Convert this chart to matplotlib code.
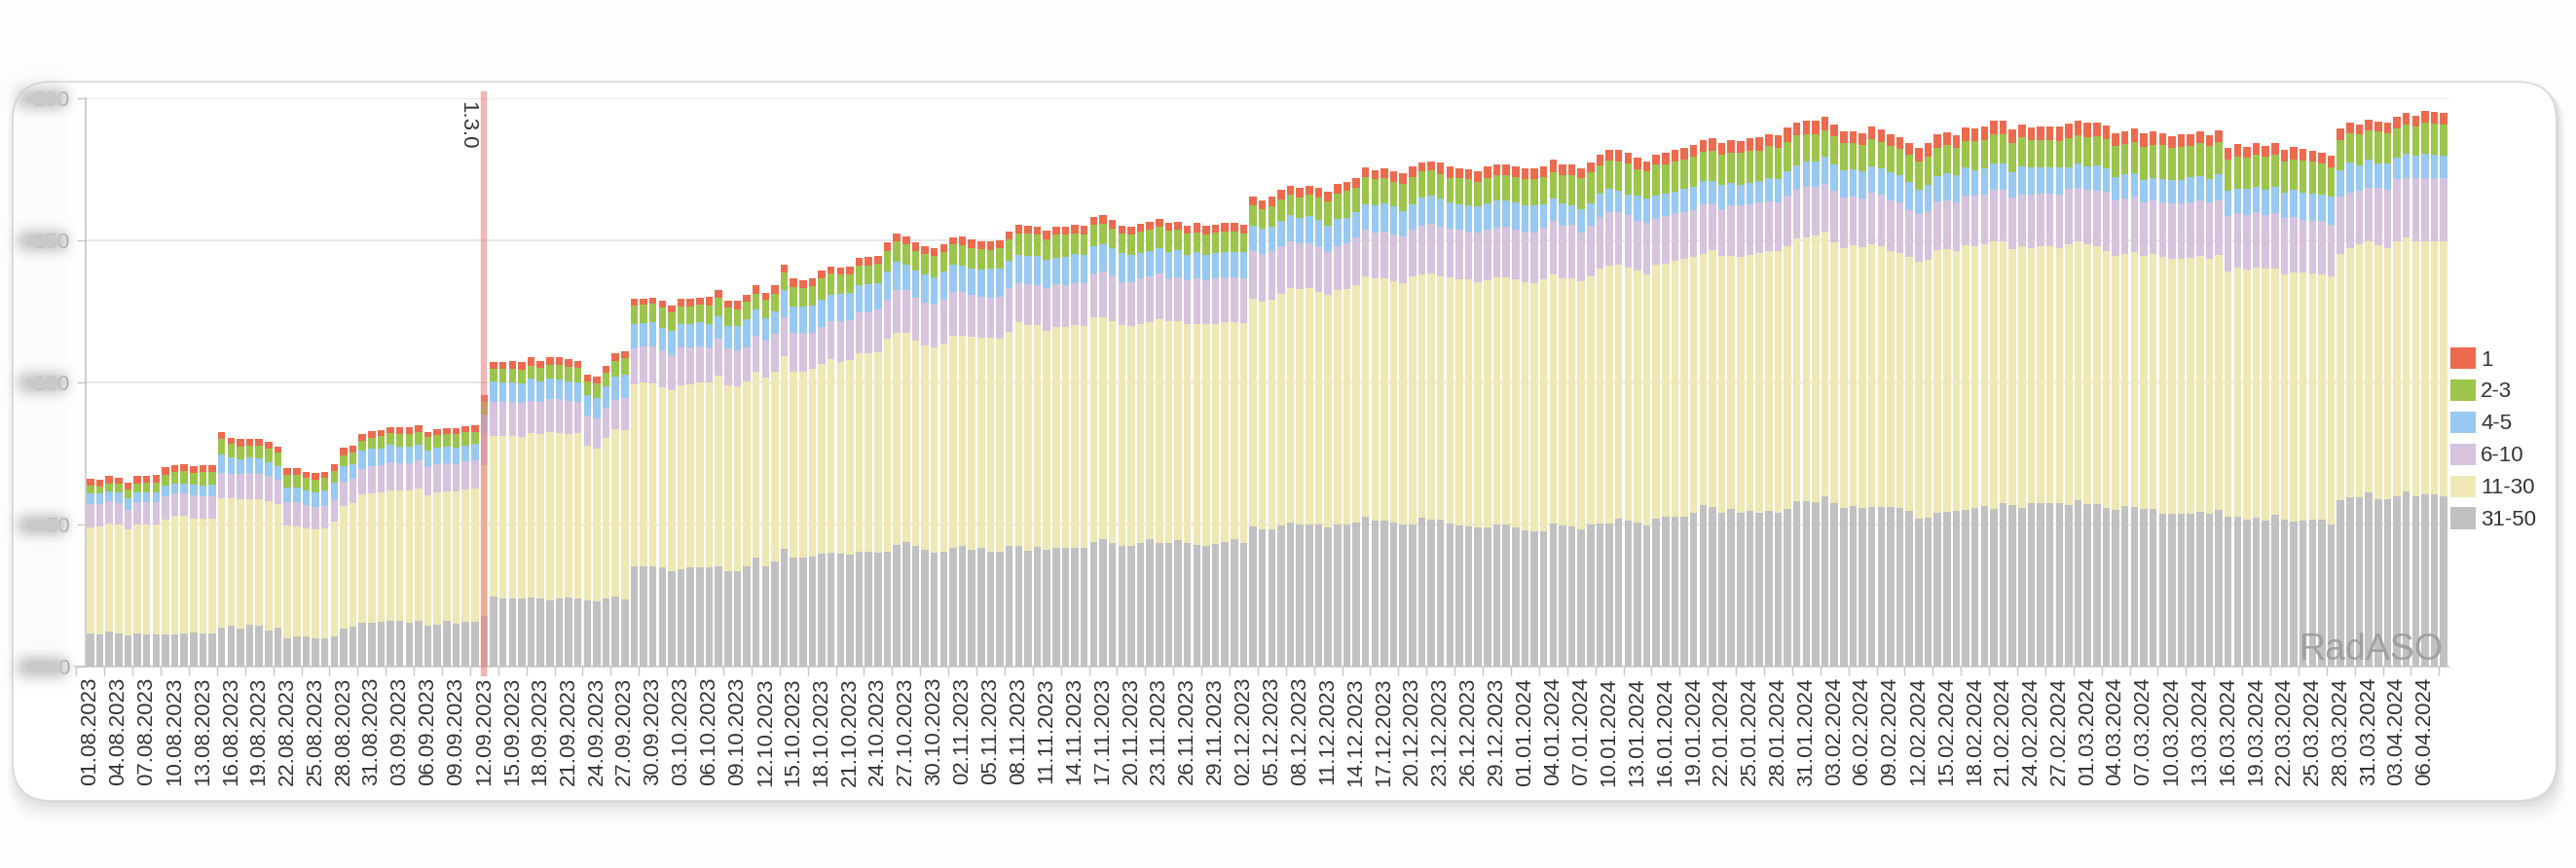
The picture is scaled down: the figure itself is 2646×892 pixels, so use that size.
import numpy as np
import pandas as pd
import matplotlib
matplotlib.use('Agg')
import matplotlib.pyplot as plt
from matplotlib.patches import FancyBboxPatch, Patch

plt.rcParams['font.family'] = ['Liberation Sans', 'DejaVu Sans']

# ---------------- data ----------------
start_date = '2023-08-01'
n_days = 252
dates = pd.date_range(start_date, periods=n_days, freq='D')
date_labels = [d.strftime('%d.%m.%Y') for d in dates]

series_names = ['1', '2-3', '4-5', '6-10', '11-30', '31-50']
series_colors = ['#ec6b4e', '#9cc54b', '#98c9f2', '#d7c3dd', '#efe8b4', '#c1c1c1']

pos_31_50 = [
    11.8, 11.4, 12.2, 11.8, 10.8, 11.6, 11.2, 11.2, 11.4, 11.4, 11.8, 12.0, 11.8, 11.8,
    13.7, 14.3, 13.4, 14.7, 14.3, 12.8, 13.7, 9.9, 10.5, 10.5, 9.9, 10.0, 10.5, 13.5,
    13.9, 15.4, 15.4, 15.6, 16.0, 16.0, 15.4, 16.0, 14.5, 14.8, 16.0, 15.2, 15.6, 15.6,
    17.9,
    24.8, 24.0, 24.0, 24.0, 24.3, 24.0, 23.4, 24.0, 24.2, 24.0, 23.2, 22.8, 24.0, 24.6, 23.8,
    35.4, 35.4, 35.2, 34.8, 33.7, 34.3, 34.8, 34.8, 34.8, 35.4, 33.5, 33.5, 35.4, 38.3, 35.4,
    37.1, 41.5, 38.5, 38.5, 38.8, 39.6, 40.0, 39.6, 39.4, 40.3, 40.3,
    40.0, 40.3, 42.8, 44.0, 42.5, 41.1, 40.0, 40.5, 41.9, 42.3, 41.1, 41.7, 40.3, 40.5,
    42.3, 42.5, 40.9, 42.0, 41.1, 41.7, 41.7, 41.9, 41.9, 44.0, 44.9, 43.4, 42.5, 42.3,
    43.6, 44.9, 43.6, 43.4, 44.5, 43.6, 42.8, 42.3, 43.1, 44.0, 44.8, 43.4, 49.4, 48.2,
    48.3, 49.5, 50.7, 50.1, 49.9, 49.9, 48.9, 50.1, 50.1, 50.7, 52.9, 51.3, 51.3, 50.7,
    50.1, 50.1, 52.3, 51.7, 51.6, 50.5, 49.5, 49.2, 48.9, 48.9, 50.1, 50.1, 48.9, 48.0,
    47.7, 47.7, 50.5, 49.5, 49.2, 48.3, 50.1, 50.5, 50.5, 51.9, 51.3, 50.7, 49.5, 51.9,
    52.6, 52.7, 52.6, 54.0, 56.8, 56.2, 54.2, 55.5, 54.0, 54.9, 54.2, 54.9, 54.2, 55.5,
    58.3, 58.3, 57.8, 60.0, 57.4, 55.9, 56.4, 55.8, 56.2, 56.2, 56.2, 55.8, 54.9, 52.0,
    52.3, 54.2, 54.5, 54.9, 55.1, 55.9, 56.4, 55.5, 57.7, 57.0, 55.8, 57.7, 57.7, 57.7,
    57.5, 56.9, 58.5, 57.3, 57.3, 55.9, 55.3, 56.6, 56.2, 55.6, 55.6, 53.6, 53.6, 53.6,
    53.6, 54.3, 53.6, 55.3, 52.7, 52.6, 51.7, 52.3, 51.3, 53.4, 51.7, 51.1, 51.3, 51.7,
    51.7, 50.0, 58.6, 59.5, 59.5, 61.4, 58.8, 58.8, 59.8, 61.8, 59.8, 60.5, 60.5, 59.9,
]
pos_11_30 = [
    37.3, 37.9, 38.0, 38.1, 37.5, 38.3, 38.8, 38.8, 40.3, 41.7, 41.3, 40.2, 40.4, 40.2,
    45.7, 45.1, 45.5, 44.3, 44.5, 45.5, 43.6, 39.7, 38.8, 38.3, 38.3, 38.8, 40.5, 43.1,
    43.5, 45.3, 45.7, 45.7, 45.9, 45.9, 46.6, 46.8, 45.7, 46.5, 45.7, 46.5, 46.8, 47.2,
    52.9,
    56.3, 57.3, 57.1, 56.8, 57.9, 57.7, 59.0, 58.2, 57.8, 58.2, 54.7, 54.0, 56.5, 58.8, 59.3,
    64.0, 64.5, 64.5, 63.4, 63.4, 64.8, 64.5, 65.1, 65.1, 67.0, 65.6, 65.1, 65.1, 65.3, 66.2,
    66.8, 67.6, 65.4, 65.4, 65.9, 66.9, 68.2, 67.7, 68.5, 69.9, 70.1,
    70.5, 75.0, 74.8, 73.3, 72.3, 71.9, 72.3, 73.3, 74.6, 74.2, 75.0, 74.2, 75.4, 75.0,
    75.6, 78.6, 79.4, 78.1, 76.9, 77.7, 77.9, 78.2, 78.0, 78.8, 78.1, 78.2, 77.8, 77.7,
    76.9, 76.2, 78.6, 78.2, 77.1, 76.9, 77.9, 78.2, 77.4, 77.1, 76.6, 77.4, 80.2, 80.3,
    80.7, 81.6, 82.5, 82.7, 83.3, 82.1, 81.9, 82.5, 82.7, 83.7, 84.6, 85.2, 85.5, 84.9,
    84.9, 87.1, 85.8, 86.8, 85.9, 86.4, 86.8, 87.0, 86.4, 87.1, 86.8, 86.8, 87.4, 87.3,
    87.4, 88.6, 87.6, 87.0, 87.6, 87.4, 87.4, 89.5, 90.7, 89.5, 89.2, 88.6, 88.6, 89.5,
    89.2, 90.0, 90.8, 90.3, 88.5, 90.4, 90.4, 89.1, 90.3, 90.0, 91.3, 91.3, 91.9, 92.6,
    92.3, 92.7, 93.8, 93.2, 91.9, 91.3, 92.0, 91.7, 92.3, 91.9, 90.0, 89.7, 89.4, 90.6,
    91.0, 92.3, 92.3, 91.3, 93.3, 91.9, 92.3, 94.2, 92.0, 89.9, 92.0, 89.7, 90.1, 90.4,
    89.9, 91.6, 91.3, 91.4, 90.5, 90.4, 89.2, 88.6, 89.6, 89.0, 89.6, 90.5, 89.9, 89.9,
    90.3, 90.3, 90.0, 89.5, 86.4, 87.7, 88.1, 88.1, 88.7, 86.6, 86.4, 87.7, 87.4, 86.8,
    86.4, 87.4, 86.6, 87.9, 89.0, 88.1, 89.6, 88.3, 89.8, 89.2, 90.0, 89.2, 89.2, 89.6,
]
pos_6_10 = [
    8.0, 7.8, 8.0, 7.8, 6.9, 8.0, 7.9, 7.9, 8.2, 8.0, 8.0, 8.0, 7.8, 8.0,
    8.8, 8.3, 8.9, 9.1, 9.1, 8.8, 8.3, 8.2, 8.6, 8.0, 7.8, 7.7, 8.0, 8.6,
    8.8, 8.9, 9.4, 9.7, 10.0, 9.7, 9.6, 9.7, 10.0, 10.0, 9.9, 9.7, 9.7, 9.7,
    11.4,
    12.0, 11.8, 12.0, 12.1, 11.4, 11.4, 11.8, 12.0, 11.6, 10.8, 10.4, 10.5, 10.5, 10.6, 11.4,
    12.6, 12.8, 13.0, 13.1, 12.6, 13.2, 12.9, 12.8, 12.6, 12.9, 12.9, 12.8, 12.0, 12.9, 13.1,
    13.1, 13.7, 13.4, 13.4, 12.9, 13.0, 13.5, 14.3, 13.9, 14.3, 14.4,
    15.2, 13.7, 14.8, 15.2, 15.1, 15.2, 15.1, 15.2, 15.4, 15.4, 14.8, 14.3, 14.2, 14.6,
    15.2, 13.7, 14.2, 14.0, 15.1, 15.1, 14.8, 15.0, 15.2, 15.4, 16.0, 16.0, 15.1, 15.4,
    16.2, 16.3, 16.0, 15.1, 15.4, 15.4, 15.8, 15.4, 16.0, 16.0, 15.6, 15.9, 16.6, 16.6,
    17.4, 16.7, 16.5, 16.3, 15.9, 15.9, 15.0, 15.3, 16.3, 16.7, 16.3, 16.3, 16.3, 16.5,
    16.5, 16.7, 17.1, 17.4, 17.4, 17.1, 17.4, 16.9, 17.5, 17.6, 17.7, 18.0, 17.4, 17.8,
    17.7, 18.1, 18.7, 18.7, 18.7, 17.1, 17.7, 18.1, 18.6, 18.7, 18.3, 17.7, 18.0, 16.3,
    16.9, 16.9, 16.7, 16.4, 17.3, 16.0, 16.4, 17.7, 17.9, 17.7, 17.7, 17.4, 17.1, 17.7,
    17.1, 17.9, 17.1, 16.8, 18.3, 17.9, 16.9, 17.1, 18.2, 17.9, 17.9, 17.7, 16.4, 16.7,
    16.9, 17.3, 17.3, 17.1, 17.3, 17.9, 17.4, 18.2, 18.2, 18.2, 18.3, 18.7, 18.6, 18.3,
    18.8, 19.5, 18.8, 19.0, 19.5, 20.7, 19.7, 19.5, 19.5, 18.8, 18.8, 19.2, 19.5, 19.5,
    19.5, 19.5, 19.7, 19.2, 19.5, 19.2, 19.1, 19.7, 18.8, 19.5, 19.7, 19.5, 18.6, 18.4,
    18.8, 18.2, 20.1, 19.5, 18.8, 19.1, 20.1, 20.8, 22.0, 21.0, 22.1, 22.1, 22.3, 22.3,
]
pos_4_5 = [
    3.7, 3.7, 3.4, 3.7, 4.0, 3.4, 3.4, 3.4, 3.8, 3.4, 3.4, 3.8, 3.8, 4.0,
    6.4, 5.9, 5.1, 5.5, 5.5, 4.9, 4.8, 5.3, 5.1, 5.3, 5.4, 5.5, 5.8, 5.4,
    5.1, 6.3, 6.1, 5.8, 6.1, 5.7, 5.7, 5.5, 5.7, 5.9, 5.7, 5.7, 5.5, 5.9,
    6.5,
    7.1, 6.9, 6.9, 6.9, 7.7, 7.4, 7.1, 6.9, 6.9, 6.9, 7.1, 7.1, 7.8, 8.2, 8.3,
    8.6, 8.3, 8.6, 8.0, 8.6, 8.2, 8.5, 8.7, 8.2, 8.0, 8.0, 8.6, 9.7, 9.1, 8.0,
    8.0, 9.7, 9.5, 9.5, 9.5, 9.5, 9.1, 9.4, 9.8, 9.7, 9.9,
    9.1, 9.9, 9.9, 9.1, 9.5, 9.9, 9.7, 9.9, 9.4, 9.1, 9.3, 9.5, 10.0, 9.9,
    9.7, 9.9, 10.0, 10.3, 10.0, 9.5, 9.8, 10.2, 9.9, 9.9, 9.5, 9.7, 10.0, 9.4,
    8.9, 8.8, 9.1, 9.3, 9.5, 9.1, 9.4, 8.8, 9.1, 8.8, 8.8, 9.1, 8.9, 9.1,
    8.3, 8.9, 9.2, 8.9, 9.4, 9.2, 9.2, 9.8, 8.9, 8.9, 8.8, 9.4, 9.8, 9.8,
    8.9, 8.9, 9.8, 9.8, 9.8, 9.5, 8.9, 9.4, 9.2, 9.3, 9.5, 9.3, 9.5, 9.4,
    9.4, 8.2, 7.8, 7.7, 7.0, 8.2, 7.7, 8.2, 8.3, 7.3, 7.3, 8.6, 8.6, 8.2,
    7.9, 7.4, 7.9, 8.3, 8.3, 8.3, 8.6, 7.9, 7.4, 7.7, 7.7, 8.2, 8.3, 8.6,
    8.7, 8.7, 9.0, 9.5, 9.2, 9.6, 9.6, 9.6, 9.4, 9.4, 10.0, 9.9, 9.9, 8.6,
    9.4, 8.7, 9.4, 9.6, 9.9, 9.0, 9.2, 9.0, 9.0, 9.0, 9.9, 9.5, 9.2, 9.2,
    9.5, 7.8, 8.4, 8.4, 9.1, 8.2, 8.2, 8.7, 8.4, 7.8, 7.8, 8.2, 8.2, 8.2,
    8.7, 8.4, 8.4, 9.4, 8.7, 8.7, 9.1, 8.8, 9.1, 9.5, 9.1, 9.5, 9.4, 9.5,
    9.1, 9.7, 9.4, 10.4, 9.1, 9.7, 8.7, 9.1, 7.5, 8.6, 7.8, 8.8, 8.2, 8.1,
]
pos_2_3 = [
    3.0, 2.6, 2.9, 3.0, 3.1, 3.2, 3.4, 3.4, 3.7, 4.0, 4.3, 4.2, 4.6, 4.6,
    5.4, 4.8, 4.6, 4.3, 4.2, 4.6, 4.8, 4.5, 4.6, 4.5, 4.3, 4.5, 4.0, 3.8,
    4.0, 3.7, 4.0, 4.2, 4.2, 4.6, 4.7, 4.6, 4.9, 4.3, 4.6, 4.6, 4.8, 4.3,
    4.3,
    4.6, 4.8, 4.8, 4.8, 4.6, 4.6, 4.9, 5.1, 5.1, 5.1, 5.1, 5.1, 4.6, 5.5, 5.7,
    6.3, 6.3, 6.3, 7.1, 6.3, 6.3, 6.1, 5.9, 6.4, 6.5, 6.3, 5.7, 6.1, 5.7, 6.3,
    6.3, 6.3, 6.9, 6.5, 6.9, 7.7, 7.4, 6.9, 6.5, 6.9, 6.5,
    6.9, 7.2, 7.2, 7.2, 6.9, 7.2, 7.4, 7.1, 7.2, 7.4, 7.1, 7.1, 6.6, 7.2,
    7.4, 7.8, 7.8, 7.7, 7.4, 8.0, 7.7, 7.2, 7.2, 7.5, 7.4, 6.9, 6.9, 7.2,
    7.4, 7.4, 7.4, 7.4, 7.1, 7.4, 6.9, 7.4, 7.1, 7.2, 7.2, 6.6, 7.1, 6.9,
    7.3, 7.6, 7.1, 7.0, 7.5, 7.9, 8.8, 8.8, 9.4, 8.6, 9.8, 9.3, 9.0, 8.8,
    9.4, 9.4, 9.2, 8.8, 8.7, 8.4, 9.2, 9.2, 8.6, 9.0, 8.8, 8.8, 9.2, 9.2,
    9.3, 9.8, 9.5, 10.0, 10.4, 10.8, 11.2, 10.1, 10.0, 10.4, 11.0, 9.5, 9.5, 10.8,
    10.0, 10.9, 10.4, 10.3, 10.3, 10.6, 10.6, 10.5, 11.2, 11.3, 10.6, 11.3, 10.9, 10.3,
    10.5, 9.9, 9.6, 9.1, 9.7, 9.6, 9.4, 9.2, 9.4, 9.2, 9.2, 9.0, 9.7, 10.0,
    9.9, 10.1, 9.9, 9.6, 9.4, 10.3, 10.0, 10.3, 10.6, 10.3, 10.3, 9.7, 9.7, 9.7,
    9.1, 10.1, 10.1, 10.3, 10.1, 10.4, 10.8, 10.4, 10.8, 11.7, 11.7, 12.0, 11.3, 11.7,
    11.2, 11.7, 11.4, 11.2, 11.0, 11.4, 11.0, 11.3, 11.4, 11.3, 10.8, 10.7, 11.4, 11.3,
    11.0, 10.4, 10.5, 10.5, 10.8, 10.4, 11.0, 10.8, 10.4, 10.0, 10.4, 10.7, 11.0, 11.0,
]
pos_1 = [
    2.2, 2.3, 2.5, 2.2, 2.5, 2.5, 2.4, 2.6, 2.9, 2.4, 2.5, 2.3, 2.5, 2.3,
    2.5, 2.1, 2.5, 2.3, 2.6, 2.5, 2.2, 2.4, 2.1, 1.9, 2.3, 2.1, 2.3, 2.6,
    2.3, 2.4, 2.3, 2.3, 2.1, 2.3, 2.2, 2.2, 1.9, 2.1, 2.1, 2.1, 2.1, 2.1,
    2.5,
    2.3, 2.3, 2.6, 2.5, 3.0, 2.6, 2.6, 2.6, 2.6, 2.6, 2.3, 2.4, 2.5, 2.5, 2.3,
    2.6, 2.3, 2.3, 2.3, 2.6, 2.6, 2.6, 2.6, 2.9, 2.6, 2.6, 2.9, 2.5, 2.9, 2.5,
    2.9, 2.6, 2.9, 2.6, 2.5, 2.6, 2.6, 2.6, 2.6, 2.9, 3.0,
    2.9, 3.1, 2.9, 2.7, 2.9, 2.7, 2.9, 2.7, 2.6, 2.9, 2.9, 2.9, 3.1, 2.9,
    2.9, 2.9, 2.9, 2.6, 2.9, 2.9, 2.9, 2.9, 2.9, 2.7, 3.1, 2.9, 2.9, 2.9,
    2.9, 2.9, 2.9, 2.9, 2.9, 2.9, 3.2, 2.9, 2.9, 3.1, 3.2, 3.2, 3.1, 3.1,
    3.3, 3.4, 3.3, 3.5, 3.3, 3.4, 3.4, 3.2, 3.3, 3.3, 3.3, 3.1, 3.4, 3.7,
    3.7, 3.7, 3.3, 3.4, 3.9, 4.0, 3.7, 3.4, 3.7, 4.0, 3.7, 3.7, 3.7, 3.7,
    3.7, 3.7, 4.3, 3.9, 3.9, 3.7, 3.4, 3.7, 3.7, 3.9, 3.7, 3.9, 3.7, 3.4,
    4.2, 3.8, 4.1, 4.1, 4.2, 4.4, 4.1, 4.6, 4.2, 4.4, 4.7, 4.2, 4.5, 5.1,
    4.7, 4.7, 4.7, 5.0, 4.4, 4.2, 4.2, 4.2, 4.7, 4.6, 4.2, 4.2, 4.1, 4.5,
    4.6, 4.6, 4.5, 4.5, 4.7, 4.5, 4.7, 4.9, 4.7, 4.5, 4.5, 4.5, 4.7, 4.7,
    5.2, 5.2, 5.1, 4.9, 4.8, 4.9, 4.4, 4.5, 4.8, 4.8, 4.8, 4.2, 4.3, 4.3,
    4.2, 4.2, 3.9, 4.2, 4.3, 4.2, 3.9, 3.9, 3.9, 3.9, 4.2, 4.3, 4.2, 3.9,
    3.9, 4.2, 4.2, 3.8, 3.5, 3.6, 3.6, 3.5, 3.9, 4.2, 3.9, 4.2, 3.9, 4.0,
]

release_date = '12.09.2023'
release_label = '1.3.0'
y_ticks = [0, 50, 100, 150, 200]
watermark = 'RadASO'

series_values = [pos_1, pos_2_3, pos_4_5, pos_6_10, pos_11_30, pos_31_50]
for s in series_values:
    assert len(s) == n_days, len(s)

# ---------------- figure ----------------
W, H = 2646, 892
fig = plt.figure(figsize=(W / 100, H / 100), dpi=100)
fig.patch.set_facecolor('#fdfdfd')

# background card with shadow
ax_bg = fig.add_axes([0, 0, 1, 1], zorder=0)
ax_bg.set_xlim(0, W)
ax_bg.set_ylim(H, 0)
ax_bg.axis('off')
card_x0, card_y0, card_w, card_h = 13, 84, 2613, 739
for k, a in enumerate([0.035, 0.03, 0.025, 0.02, 0.015, 0.01]):
    off = 2 + k * 2.5
    ax_bg.add_patch(FancyBboxPatch((card_x0 + 2, card_y0 + off), card_w, card_h,
                                   boxstyle=f"round,pad={k*1.5},rounding_size=40",
                                   fc='black', ec='none', alpha=a))
ax_bg.add_patch(FancyBboxPatch((card_x0, card_y0), card_w, card_h,
                               boxstyle="round,pad=0,rounding_size=40",
                               fc='white', ec='#d9d9d9', lw=1.2))

# main axes
ax_l, ax_r, ax_t, ax_b = 77, 2515, 101, 685
ax = fig.add_axes([ax_l / W, 1 - ax_b / H, (ax_r - ax_l) / W, (ax_b - ax_t) / H], zorder=2)
ax.patch.set_alpha(0)
x = np.arange(n_days)
ax.set_xlim(-1.65, n_days - 0.5)
ax.set_ylim(0, 200)

# gridlines
ax.hlines(y_ticks[1:], -0.55, n_days - 0.5, color='#e4e4e4', lw=1.2, zorder=0)

# stacked bars, bottom to top
bottom = np.zeros(n_days)
for name, vals, col in reversed(list(zip(series_names, series_values, series_colors))):
    v = np.array(vals)
    ax.bar(x, v, bottom=bottom, width=0.78, color=col, linewidth=0, zorder=2)
    bottom += v

# release marker
rel_idx = date_labels.index(release_date)
ax.axvline(rel_idx, ymin=-0.012, ymax=1.006, color='#ee7878', alpha=0.55, lw=4.6,
           clip_on=False, zorder=3)
ax.text(rel_idx - 1.85, 199, release_label, rotation=-90, ha='center', va='top',
        fontsize=16, color='#333333', zorder=4)

# spines
for s in ['top', 'right']:
    ax.spines[s].set_visible(False)
ax.spines['left'].set_position(('data', -0.55))
ax.spines['left'].set_color('#c6c6c6')
ax.spines['bottom'].set_color('#c6c6c6')
ax.spines['left'].set_linewidth(1.2)
ax.spines['bottom'].set_linewidth(1.2)

# x ticks
ax.set_xticks(x[::3])
ax.set_xticklabels(date_labels[::3], rotation=90, fontsize=16, color='#333333')
ax.tick_params(axis='x', which='major', length=0, pad=8)
ax.set_xticks(np.arange(-1.5, n_days, 3), minor=True)
ax.tick_params(axis='x', which='minor', length=6.5, width=1, color='#c6c6c6')

# y ticks
ax.set_yticks(y_ticks)
ax.set_yticklabels([str(v) for v in y_ticks], fontsize=16, color='#9a9a9a')
ax.tick_params(axis='y', length=6.5, width=1, color='#c6c6c6', pad=5)

# legend
handles = [Patch(facecolor=c, edgecolor='none') for c in series_colors]
leg = fig.legend(handles, series_names, loc='upper left',
                 bbox_to_anchor=(2517 / W, 1 - 357 / H), frameon=False, fontsize=16,
                 handlelength=1.15, handleheight=1.15, handletextpad=0.25,
                 labelspacing=0.42, borderpad=0, borderaxespad=0)
for t in leg.get_texts():
    t.set_color('#333333')

# watermark
fig.text(2510 / W, 1 - 678 / H, watermark, ha='right', va='baseline', fontsize=27,
         color='#9c9c9c', alpha=0.9, zorder=6)

# blurred y labels (obscured in the reference)
fig.canvas.draw()
ax_fg = fig.add_axes([0, 0, 1, 1], zorder=5)
ax_fg.patch.set_alpha(0)
ax_fg.axis('off')
bw = 110
yy, xx = np.mgrid[0:H, 0:bw]
alpha = np.zeros((H, bw))
band = 0.06 * np.exp(-((xx - 43) / 27.0) ** 4)
band[(yy < 95) | (yy > 700)] = 0
alpha = np.maximum(alpha, band)
for v in y_ticks:
    yc = H - ax.transData.transform((0, v))[1]
    blob = 1.1 * np.exp(-((xx - 43) / 27.0) ** 4 - ((yy - yc) / 13.0) ** 2)
    alpha = np.maximum(alpha, np.clip(blob, 0, 1))
img = np.zeros((H, bw, 4))
img[..., 0] = 0.79
img[..., 1] = 0.79
img[..., 2] = 0.79
img[..., 3] = alpha
ax_fg.imshow(img, extent=(0, bw, H, 0), aspect='auto', interpolation='bilinear')
ax_fg.set_xlim(0, W)
ax_fg.set_ylim(H, 0)

fig.savefig('out.png', dpi=100, facecolor=fig.get_facecolor())
